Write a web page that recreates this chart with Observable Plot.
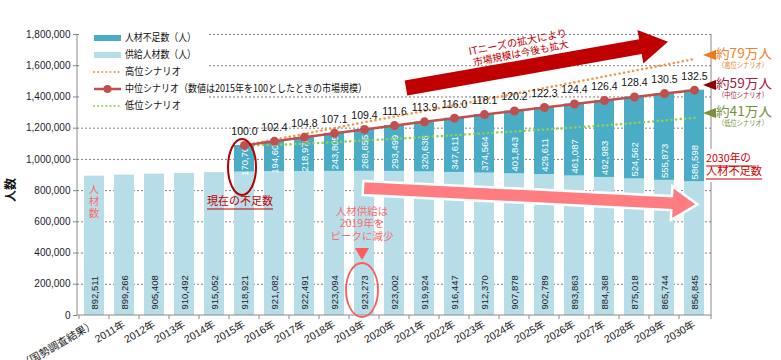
<!DOCTYPE html>
<html><head><meta charset="utf-8">
<script src="https://cdn.jsdelivr.net/npm/d3@7"></script>
<script src="https://cdn.jsdelivr.net/npm/@observablehq/plot@0.6"></script>
<style>
body{margin:0;background:#fff}
svg{font-family:"Liberation Sans","Noto Sans CJK JP",sans-serif}
</style>
</head><body><div id="chart"></div>
<script>
const years = ["2010年（国勢調査結果）","2011年","2012年","2013年","2014年","2015年","2016年","2017年","2018年","2019年","2020年","2021年","2022年","2023年","2024年","2025年","2026年","2027年","2028年","2029年","2030年"];
const supply = [892511,899266,905408,910492,915052,918921,921082,922491,923094,923273,923002,919924,916447,912370,907878,902789,893863,884368,875018,865744,856845];
const shortYears = years.slice(5);
const shortage = [170700,194608,218976,243805,268655,293499,320638,347611,374564,401843,429611,461087,492983,524562,555873,586598];
const midIndex = [100.0,102.4,104.8,107.1,109.4,111.6,113.9,116.0,118.1,120.2,122.3,124.4,126.4,128.4,130.5,132.5];
const highTotal = [1089621,1127000,1163000,1201000,1238000,1274000,1310000,1346000,1383000,1420000,1457000,1494000,1531000,1568000,1605000,1643000];
const lowTotal = [1089621,1093000,1100000,1110000,1121000,1132000,1143000,1155000,1167000,1179000,1191000,1204000,1218000,1233000,1249000,1266000];
const yTicks = [0,200000,400000,600000,800000,1000000,1200000,1400000,1600000,1800000];
const legendLabels = ["人材不足数（人）","供給人材数（人）","高位シナリオ","中位シナリオ（数値は2015年を100としたときの市場規模）","低位シナリオ"];

const C = {short:"#4bacc6", supply:"#b7dee8", high:"#f79646", mid:"#c0504d", low:"#92d050"};

const supplyData = years.map((y,i)=>({year:y, supply:supply[i]}));
const shortData = shortYears.map((y,i)=>({year:y, supply:supply[i+5], shortage:shortage[i], total:supply[i+5]+shortage[i], index:midIndex[i], high:highTotal[i], low:lowTotal[i]}));
const fmt = d3.format(",");

const plot = Plot.plot({
  width:781, height:360, marginTop:34, marginBottom:45, marginLeft:77, marginRight:70,
  x:{domain:years, paddingInner:0.34, paddingOuter:0.17, label:null},
  y:{domain:[0,1800000], label:null},
  style:{fontFamily:'"Liberation Sans","Noto Sans CJK JP",sans-serif', fontSize:"10px", color:"#1a1a1a", background:"#fff"},
  marks:[
    Plot.gridY(yTicks.filter(d=>d>0), {stroke:"#7f7f7f", strokeOpacity:1, strokeDasharray:"2,2"}),
    Plot.axisY(yTicks, {tickFormat:fmt, tickSize:4, tickPadding:3, fontSize:10, stroke:"#888", fill:"#1a1a2e"}),
    Plot.axisX({tickRotate:-30, tickSize:0, tickPadding:8, fontSize:10.5, fill:"#222"}),
    Plot.barY(supplyData, {x:"year", y1:0, y2:"supply", fill:C.supply}),
    Plot.barY(shortData, {x:"year", y1:"supply", y2:"total", fill:C.short}),
    Plot.text(supplyData, {x:"year", y:0, text:d=>fmt(d.supply), rotate:-90, textAnchor:"start", dy:-6, fontSize:9.5, fill:"#222"}),
    Plot.text(shortData, {x:"year", y:d=>Math.min(d.supply + d.shortage/2, d.supply + 125000), text:d=>fmt(d.shortage), rotate:-90, textAnchor:"middle", fontSize:9.5, fill:"#fff"}),
    Plot.line(shortData, {x:"year", y:"low", stroke:C.low, strokeWidth:2.5, strokeDasharray:"0.1,4.5", strokeLinecap:"round"}),
    Plot.line(shortData, {x:"year", y:"high", stroke:C.high, strokeWidth:2.5, strokeDasharray:"0.1,4.5", strokeLinecap:"round"}),
    Plot.line(shortData, {x:"year", y:"total", stroke:C.mid, strokeWidth:2.5}),
    Plot.dot(shortData, {x:"year", y:"total", r:4.5, fill:C.mid, stroke:"none"}),
    Plot.text(shortData, {x:"year", y:"total", text:d=>d.index.toFixed(1), dy:-14, fontSize:10.5, fill:"#111"})
  ]
});
document.getElementById("chart").appendChild(plot);

const svg = d3.select(plot);
const xs = plot.scale("x"), ys = plot.scale("y");
const bw = xs.bandwidth, step = xs.step;
const X = c => xs.apply(c) + bw/2;
const Y = v => ys.apply(v);
const x0 = 77, x1 = 711, yb = Y(0), yt = Y(1800000);
const g = svg.append("g");

// axes lines
g.append("line").attr("x1",x0).attr("x2",x0).attr("y1",yt).attr("y2",yb).attr("stroke","#888");
g.append("line").attr("x1",x0).attr("x2",x1).attr("y1",yb).attr("y2",yb).attr("stroke","#888");
g.append("line").attr("x1",x1).attr("x2",x1).attr("y1",yt).attr("y2",yb).attr("stroke","#888");
years.forEach(c=>{
  const bx = xs.apply(c) - (step-bw)/2;
  g.append("line").attr("x1",bx).attr("x2",bx).attr("y1",yb).attr("y2",yb+4).attr("stroke","#888");
});
g.append("line").attr("x1",x1).attr("x2",x1).attr("y1",yb).attr("y2",yb+4).attr("stroke","#888");

function txt(x,y,s,o={}){
  const t = g.append("text").attr("x",x).attr("y",y).text(s)
    .attr("font-size",o.size||11).attr("fill",o.fill||"#111")
    .attr("text-anchor",o.anchor||"start").attr("dominant-baseline",o.base||"middle");
  if(o.font) t.attr("font-family",o.font);
  if(o.len) t.attr("textLength",o.len).attr("lengthAdjust","spacingAndGlyphs");
  if(o.weight) t.attr("font-weight",o.weight);
  if(o.transform) t.attr("transform",o.transform);
  return t;
}
const JP = '"Noto Sans CJK JP",sans-serif';

// y title
txt(0,0,"人数",{size:12,weight:"bold",anchor:"middle",font:JP,transform:"translate(12,190) rotate(-90)"});

// legend
g.append("rect").attr("x",79).attr("y",27).attr("width",128).attr("height",86).attr("fill","#fff");
const ly = [38,55,72,89,106];
g.append("line").attr("x1",94).attr("x2",121).attr("y1",ly[0]).attr("y2",ly[0]).attr("stroke",C.short).attr("stroke-width",6);
g.append("line").attr("x1",94).attr("x2",121).attr("y1",ly[1]).attr("y2",ly[1]).attr("stroke",C.supply).attr("stroke-width",6);
g.append("line").attr("x1",94).attr("x2",121).attr("y1",ly[2]).attr("y2",ly[2]).attr("stroke",C.high).attr("stroke-width",2).attr("stroke-dasharray","0.1,4").attr("stroke-linecap","round");
g.append("line").attr("x1",94).attr("x2",121).attr("y1",ly[3]).attr("y2",ly[3]).attr("stroke",C.mid).attr("stroke-width",2.5);
g.append("circle").attr("cx",107.5).attr("cy",ly[3]).attr("r",4).attr("fill",C.mid);
g.append("line").attr("x1",94).attr("x2",121).attr("y1",ly[4]).attr("y2",ly[4]).attr("stroke",C.low).attr("stroke-width",2).attr("stroke-dasharray","0.1,4").attr("stroke-linecap","round");
const llen = [71,71,56,242,56];
legendLabels.forEach((s,i)=>txt(125,ly[i],s,{size:10.5,font:JP,len:llen[i]}));

// big dark red arrow
function arrow(ox,oy,ang,L,hl,hh,sh,fill,stroke){
  const pts = [[0,-sh],[L-hl,-sh],[L-hl,-hh],[L,0],[L-hl,hh],[L-hl,sh],[0,sh]];
  const p = g.append("polygon").attr("points",pts.map(p=>p.join(",")).join(" "))
    .attr("transform",`translate(${ox},${oy}) rotate(${ang})`).attr("fill",fill);
  if(stroke) p.attr("stroke",stroke).attr("stroke-width",2.5).attr("stroke-linejoin","miter");
}
arrow(406,88,-10,266,28,17,7.5,"#c00000");
txt(0,0,"ITニーズの拡大により",{size:10.5,fill:"#c00000",anchor:"middle",font:JP,len:100,transform:"translate(518,43) rotate(-11)"});
txt(0,0,"市場規模は今後も拡大",{size:10,fill:"#c00000",anchor:"middle",font:JP,len:97,transform:"translate(521,54) rotate(-11)"});

// pink arrow
arrow(363,188,2.8,335,26,17,7,"#ff7c80","#fff");

// first bar note
const fx = X(years[0]);
["人","材","数"].forEach((s,i)=>txt(fx,190+i*12,s,{size:10.5,fill:"#ff6b6b",anchor:"middle",font:JP}));

// 2015 ellipse and note
const x15 = X("2015年");
g.append("ellipse").attr("cx",x15-2).attr("cy",167).attr("rx",14).attr("ry",28).attr("fill","none").attr("stroke","#b00000").attr("stroke-width",2);
txt(207,202,"現在の不足数",{size:11,fill:"#c00000",font:JP,len:66});
g.append("line").attr("x1",207).attr("x2",273).attr("y1",209).attr("y2",209).attr("stroke","#c00000");

// 2019 note
const x19 = X("2019年") - 2;
["人材供給は","2019年を","ピークに減少"].forEach((s,i)=>txt(x19,212+i*12.5,s,{size:10.5,fill:"#ff6b6b",anchor:"middle",font:JP}));
g.append("polygon").attr("points",`${x19-7},248 ${x19+7},248 ${x19},260`).attr("fill","#ff5a5a");
g.append("ellipse").attr("cx",x19).attr("cy",290).attr("rx",16).attr("ry",27).attr("fill","none").attr("stroke","#ff5a5a").attr("stroke-width",1.8);

// 2030 shortage note
g.append("rect").attr("x",705).attr("y",149).attr("width",60).attr("height",33).attr("fill","#fff");
txt(706,159,"2030年の",{size:11,fill:"#d00000",font:JP,len:45});
g.append("line").attr("x1",706).attr("x2",752).attr("y1",166).attr("y2",166).attr("stroke","#d00000");
txt(706,172,"人材不足数",{size:11,fill:"#d00000",font:JP,len:56});
g.append("line").attr("x1",706).attr("x2",762).attr("y1",179).attr("y2",179).attr("stroke","#d00000");

// right scenario labels
const rl = [
  {y:54, big:"約79万人", small:"（高位シナリオ）", fill:"#f0812a", tri:"#f07a1a"},
  {y:84, big:"約59万人", small:"（中位シナリオ）", fill:"#a52040", tri:"#8b0000"},
  {y:112, big:"約41万人", small:"（低位シナリオ）", fill:"#76923c", tri:"#76923c"}
];
rl.forEach(r=>{
  g.append("polygon").attr("points",`703,${r.y+1} 716,${r.y-4} 716,${r.y+6}`).attr("fill",r.tri);
  txt(716,r.y,r.big,{size:13,fill:r.fill,font:JP,len:56});
  txt(718,r.y+12,r.small,{size:7.5,fill:r.fill,font:JP,len:50});
});
</script>
</body></html>
